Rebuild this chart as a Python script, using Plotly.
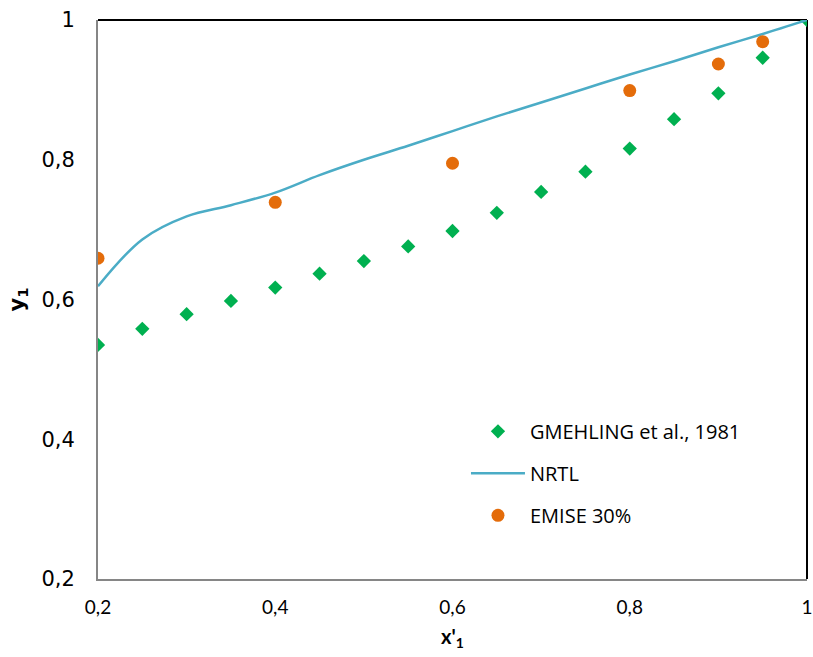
import plotly.graph_objects as go

# --- data ---
gm_x = [0.2, 0.25, 0.3, 0.35, 0.4, 0.45, 0.5, 0.55, 0.6, 0.65, 0.7, 0.75, 0.8, 0.85, 0.9, 0.95, 1.0]
gm_y = [0.535, 0.558, 0.579, 0.598, 0.617, 0.637, 0.655, 0.676, 0.698, 0.724, 0.754, 0.783, 0.816, 0.858, 0.895, 0.946, 1.0]

nrtl_x = [0.2, 0.25, 0.3, 0.35, 0.4, 0.45, 0.5, 0.55, 0.6, 0.65, 0.7, 0.75, 0.8, 0.85, 0.9, 0.95, 1.0]
nrtl_y = [0.619, 0.686, 0.719, 0.735, 0.753, 0.778, 0.800, 0.820, 0.841, 0.862, 0.882, 0.902, 0.922, 0.941, 0.961, 0.980, 1.0]

em_x = [0.2, 0.4, 0.6, 0.8, 0.9, 0.95]
em_y = [0.659, 0.739, 0.795, 0.899, 0.937, 0.969]

tick_vals = [0.2, 0.4, 0.6, 0.8, 1.0]
tick_text = ["0,2", "0,4", "0,6", "0,8", "1"]

fig = go.Figure()
fig.add_trace(go.Scatter(x=gm_x, y=gm_y, mode="markers", name="GMEHLING et al., 1981",
                         legendgroup="a",
                         marker=dict(symbol="diamond", size=11, color="#00B050")))
fig.add_trace(go.Scatter(x=nrtl_x, y=nrtl_y, mode="lines", name="NRTL",
                         legendgroup="b",
                         line=dict(color="#4BACC6", width=2.5, shape="spline")))
fig.add_trace(go.Scatter(x=em_x, y=em_y, mode="markers", name="EMISE 30%",
                         legendgroup="c",
                         marker=dict(symbol="circle", size=13, color="#E46C0A")))

fig.update_layout(
    width=813, height=657,
    margin=dict(l=98, r=6, t=20, b=78),
    paper_bgcolor="white", plot_bgcolor="white",
    showlegend=True,
    legend=dict(x=0.519, y=0.299, xanchor="left", yanchor="top",
                font=dict(family="Open Sans", size=20, color="#000000"),
                bgcolor="rgba(0,0,0,0)", traceorder="grouped", tracegroupgap=13,
                itemwidth=54),
    xaxis=dict(range=[0.2, 1.0], tickvals=tick_vals, ticktext=tick_text,
               showgrid=False, zeroline=False, ticks="", automargin=False,
               showline=True, linecolor="#868686", linewidth=2,
               ticklabelstandoff=10, ticklabeloverflow="allow",
               tickfont=dict(family="Lato", size=19, color="#000000"),
               title=dict(text="<b>x'<sub>1</sub></b>", standoff=13,
                          font=dict(family="Lato", size=20, color="#000000"))),
    yaxis=dict(range=[0.2, 1.0], tickvals=tick_vals, ticktext=tick_text,
               showgrid=False, zeroline=False, ticks="", automargin=False,
               showline=True, linecolor="#868686", linewidth=2,
               ticklabelstandoff=17, ticklabeloverflow="allow",
               tickfont=dict(family="DejaVu Sans", size=21, color="#000000"),
               title=dict(text="<b>y<sub>1</sub></b>", standoff=11,
                          font=dict(family="DejaVu Sans", size=21, color="#000000"))),
    shapes=[
        dict(type="line", xref="paper", yref="paper", x0=0, x1=1, y0=1, y1=1,
             line=dict(color="#000000", width=2), layer="below"),
        dict(type="line", xref="paper", yref="paper", x0=1, x1=1, y0=0, y1=1,
             line=dict(color="#000000", width=2), layer="below"),
    ],
)

# remove the browser's default 8px body margin so the figure fills the window
fig.write_html("out.html", config={"displayModeBar": False},
               post_script="document.body.style.margin='0';document.body.style.overflow='hidden';")
